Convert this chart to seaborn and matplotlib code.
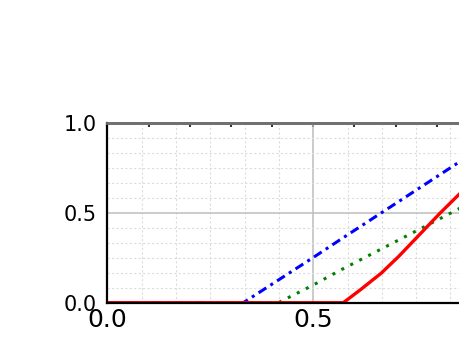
import numpy as np
import pandas as pd
import matplotlib
matplotlib.use('Agg')
import matplotlib.pyplot as plt
from matplotlib.ticker import MultipleLocator, NullFormatter
import seaborn as sns

# data
red_x = [0.0, 0.573, 0.614, 0.665, 0.707, 0.750, 0.808, 0.857, 0.9, 1.0]
red_y = [0.0, 0.0, 0.071, 0.164, 0.256, 0.359, 0.498, 0.609, 0.71, 0.95]
blue_x = [0.0, 0.33, 0.499, 0.565, 0.857, 1.0]
blue_y = [0.0, 0.0, 0.25, 0.35, 0.786, 1.0]
green_x = [0.0, 0.415, 0.499, 0.565, 0.831, 1.0]
green_y = [0.0, 0.0, 0.097, 0.18, 0.495, 0.70]

x_ticks = [0.0, 0.5]
y_ticks = [0.0, 0.5, 1.0]
x_ticklabels = ['0.0', '0.5']
y_ticklabels = ['0.0', '0.5', '1.0']

sns.set_style('white')
plt.rcParams['font.family'] = ['DejaVu Sans']

fig = plt.figure(figsize=(4.6, 3.45), dpi=100)
W, H = 460, 345
left, right, top, bottom = 107.5, 519, 123, 302.7
ax = fig.add_axes([left / W, (H - bottom) / H, (right - left) / W, (bottom - top) / H])

# grid
ax.xaxis.set_minor_locator(MultipleLocator(1 / 12))
ax.yaxis.set_minor_locator(MultipleLocator(1 / 12))
ax.grid(which='minor', color='#dcdcdc', linestyle=(0, (2, 2)), linewidth=0.8)
ax.grid(which='major', color='#bdbdbd', linestyle='-', linewidth=1.1)
ax.set_axisbelow(True)

sns.lineplot(x=green_x, y=green_y, ax=ax, color='#008000', linewidth=2.2,
             linestyle=(0, (1, 2.3)))
sns.lineplot(x=blue_x, y=blue_y, ax=ax, color='#0000ff', linewidth=2.2,
             linestyle=(0, (3, 1.6, 1, 1.6)))
sns.lineplot(x=red_x, y=red_y, ax=ax, color='#ff0000', linewidth=2.4)

ax.set_xlim(0, 1)
ax.set_ylim(0, 1)
ax.set_xticks(x_ticks)
ax.set_yticks(y_ticks)
ax.set_xticklabels(x_ticklabels, fontsize=18, color='black')
ax.set_yticklabels(y_ticklabels, fontsize=15, color='black')
ax.yaxis.set_minor_formatter(NullFormatter())
ax.xaxis.set_minor_formatter(NullFormatter())

ax.tick_params(axis='y', which='both', direction='out', length=4, width=1,
               color='black', pad=4)
ax.tick_params(axis='x', which='both', direction='out', length=2, width=1,
               color='black', pad=1.5)

for s in ['left', 'bottom']:
    ax.spines[s].set_color('black')
    ax.spines[s].set_linewidth(1.6)
ax.spines['top'].set_color('#707070')
ax.spines['top'].set_linewidth(2)
ax.spines['right'].set_visible(False)

# top axis with its own ticks every 0.1
sec = ax.secondary_xaxis('top')
sec.set_xticks(np.arange(0.0, 1.01, 0.1))
sec.tick_params(direction='in', length=3, width=1.5, color='#333333', labeltop=False)
sec.spines['top'].set_color('#707070')
sec.spines['top'].set_linewidth(2)

ax.set_xlabel('')
ax.set_ylabel('')

fig.savefig('out.png', dpi=100)
